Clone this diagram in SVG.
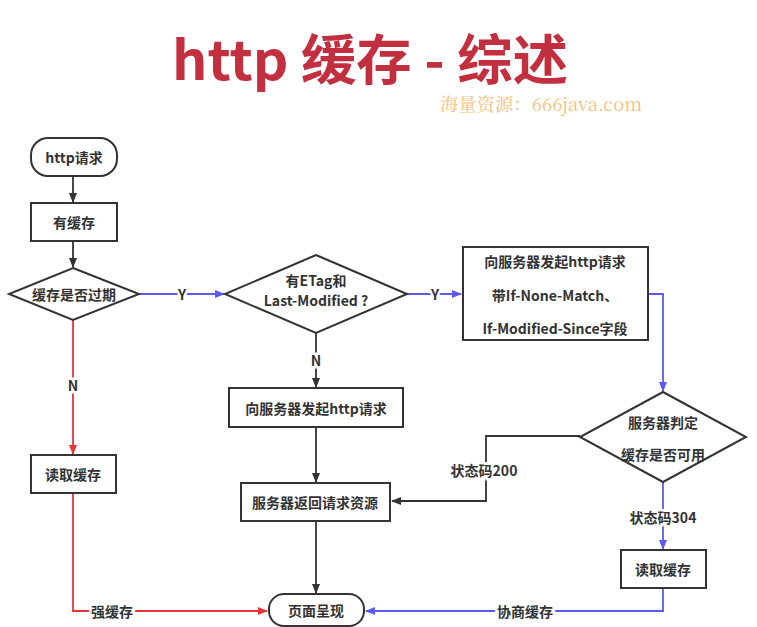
<svg xmlns="http://www.w3.org/2000/svg" width="757" height="627" viewBox="0 0 757 627">
<style>
.box{fill:#fff;stroke:#333;stroke-width:2}
.t{font-family:"Noto Sans CJK SC","Noto Sans",sans-serif;font-weight:bold;font-size:14px;fill:#333;text-anchor:middle;dominant-baseline:central}
.lbl{font-family:"Noto Sans CJK SC","Noto Sans",sans-serif;font-weight:bold;font-size:14px;fill:#333;text-anchor:middle;dominant-baseline:central;stroke:#fff;stroke-width:5px;paint-order:stroke}
.k{fill:none;stroke:#333;stroke-width:1.8}
.b{fill:none;stroke:#5b5bf0;stroke-width:1.8}
.r{fill:none;stroke:#e8353a;stroke-width:1.8}
</style>
<defs>
<marker id="ak" markerWidth="10" markerHeight="10" refX="9" refY="5" orient="auto" markerUnits="userSpaceOnUse"><path d="M0,1 L10,5 L0,9 Z" fill="#333"/></marker>
<marker id="ab" markerWidth="10" markerHeight="10" refX="9" refY="5" orient="auto" markerUnits="userSpaceOnUse"><path d="M0,1 L10,5 L0,9 Z" fill="#5b5bf0"/></marker>
<marker id="ar" markerWidth="10" markerHeight="10" refX="9" refY="5" orient="auto" markerUnits="userSpaceOnUse"><path d="M0,1 L10,5 L0,9 Z" fill="#e8353a"/></marker>
</defs>
<rect width="757" height="627" fill="#fff"/>
<text x="172" y="80" font-family="'Noto Sans CJK SC','Noto Sans',sans-serif" font-weight="bold" font-size="54" fill="#c22f3f" textLength="396" lengthAdjust="spacingAndGlyphs">http 缓存 - 综述</text>
<text x="440" y="111" font-family="'Noto Serif CJK SC','Liberation Serif','Noto Sans CJK SC',serif" font-size="18" fill="#f2c27a" textLength="202" lengthAdjust="spacingAndGlyphs">海量资源：666java.com</text>

<g id="connectors">
<path class="k" d="M73,176 V202" marker-end="url(#ak)"/>
<path class="k" d="M73,241 V267" marker-end="url(#ak)"/>
<path class="b" d="M139,294 H224" marker-end="url(#ab)"/>
<text class="lbl" x="182" y="294">Y</text>
<path class="b" d="M407,294 H461" marker-end="url(#ab)"/>
<text class="lbl" x="435" y="294">Y</text>
<path class="b" d="M648,294 H663 V391" marker-end="url(#ab)"/>
<path class="r" d="M73,320 V454" marker-end="url(#ar)"/>
<text class="lbl" x="73" y="385">N</text>
<path class="r" d="M73,493 V611 H267" marker-end="url(#ar)"/>
<text class="lbl" x="112" y="611">强缓存</text>
<path class="k" d="M316,333 V387" marker-end="url(#ak)"/>
<text class="lbl" x="316" y="360">N</text>
<path class="k" d="M316,427 V482" marker-end="url(#ak)"/>
<path class="k" d="M316,521 V593" marker-end="url(#ak)"/>
<path class="k" d="M580,436 H486 V501 H392" marker-end="url(#ak)"/>
<text class="lbl" x="484" y="470">状态码200</text>
<path class="b" d="M663,482 V549" marker-end="url(#ab)"/>
<text class="lbl" x="663" y="517">状态码304</text>
<path class="b" d="M663,588 V611 H366" marker-end="url(#ab)"/>
<text class="lbl" x="525" y="611">协商缓存</text>
</g>

<g id="n-request"><rect class="box" x="31" y="138" width="86" height="38" rx="17"/><text class="t" x="74" y="157">http请求</text></g>
<g id="n-hascache"><rect class="box" x="31" y="203" width="86" height="38"/><text class="t" x="74" y="222">有缓存</text></g>
<g id="n-expired"><polygon class="box" points="73,268 139,294 73,320 9,294"/><text class="t" x="74" y="294">缓存是否过期</text></g>
<g id="n-etag"><polygon class="box" points="316,255 407,294 316,333 225,294"/><text class="t" x="316" y="280">有ETag和</text><text class="t" x="316" y="300">Last-Modified ?</text></g>
<g id="n-condreq"><rect class="box" x="463" y="247" width="185" height="93"/><text class="t" x="555" y="261">向服务器发起http请求</text><text class="t" x="555" y="295">带If-None-Match、</text><text class="t" x="555" y="328">If-Modified-Since字段</text></g>
<g id="n-judge"><polygon class="box" points="663,392 746,437 663,482 580,437"/><text class="t" x="663" y="422">服务器判定</text><text class="t" x="663" y="454">缓存是否可用</text></g>
<g id="n-readcache1"><rect class="box" x="31" y="455" width="85" height="38"/><text class="t" x="73" y="474">读取缓存</text></g>
<g id="n-req"><rect class="box" x="229" y="388" width="174" height="39"/><text class="t" x="316" y="408">向服务器发起http请求</text></g>
<g id="n-return"><rect class="box" x="241" y="483" width="149" height="38"/><text class="t" x="315" y="502">服务器返回请求资源</text></g>
<g id="n-readcache2"><rect class="box" x="621" y="550" width="85" height="38"/><text class="t" x="663" y="569">读取缓存</text></g>
<g id="n-render"><rect class="box" x="269" y="594" width="95" height="32" rx="15"/><text class="t" x="316" y="610">页面呈现</text></g>
</svg>
